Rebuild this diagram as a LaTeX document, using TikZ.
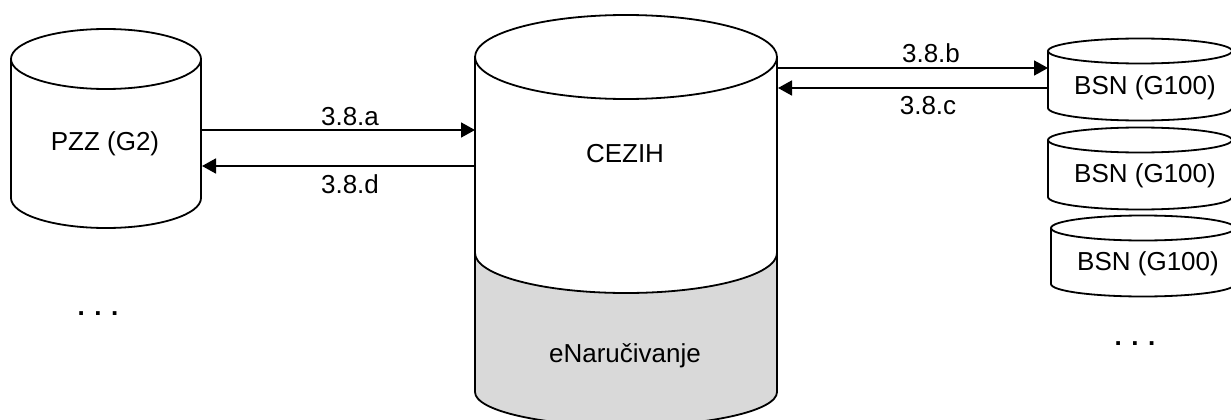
\documentclass[tikz,border=0pt]{standalone}
\usepackage{fontspec}
\setmainfont{Liberation Sans}
\usetikzlibrary{arrows.meta}
\definecolor{dbgray}{HTML}{D9D9D9}
\tikzset{
  outline/.style={draw=black, line width=1.8pt},
  txt/.style={inner sep=0pt, anchor=base, font=\fontsize{26}{31}\selectfont},
  flow/.style={line width=1.8pt, -{Triangle[length=14pt,width=15pt]}}
}
% cylinder: cx, rx, top cy, ry, bottom cy
\newcommand\dbcyl[5]{%
  \fill[white] (#1-#2,#3) -- (#1-#2,#5) arc[start angle=180,end angle=0,x radius=#2,y radius=#4] -- (#1+#2,#3) -- cycle;
  \draw[outline] (#1-#2,#3) -- (#1-#2,#5) arc[start angle=180,end angle=0,x radius=#2,y radius=#4] -- (#1+#2,#3);
  \draw[outline, fill=white] (#1,#3) ellipse [x radius=#2, y radius=#4];
}
\begin{document}
\begin{tikzpicture}[x=1pt,y=-1pt]
\useasboundingbox (0,0) rectangle (1231,420);
\clip (0,0) rectangle (1231,420);
\fill[white] (0,0) rectangle (1231,420);

% PZZ cylinder
\dbcyl{106}{95}{59}{30}{198}
\node[txt] (pzz) at (105,150) {PZZ (G2)};
\coordinate (pzzA) at (201,130);
\coordinate (pzzD) at (202,166);

% CEZIH cylinder
\fill[dbgray] (475,253) arc[start angle=180,end angle=0,x radius=151,y radius=40]
  -- (777,392) arc[start angle=0,end angle=180,x radius=151,y radius=34] -- cycle;
\draw[outline] (475,57) -- (475,392) arc[start angle=180,end angle=0,x radius=151,y radius=34] -- (777,57);
\draw[outline] (475,253) arc[start angle=180,end angle=0,x radius=151,y radius=40];
\draw[outline, fill=white] (626,57) ellipse [x radius=151, y radius=42];
\node[txt] (cezih) at (625,162) {CEZIH};
\node[txt] (enar) at (625,362) {eNaručivanje};
\coordinate (czA) at (475,130);
\coordinate (czD) at (476,166);
\coordinate (czB) at (777,68);
\coordinate (czC) at (778,88);

% BSN cylinders
\dbcyl{1140}{92}{51}{12.5}{108}
\dbcyl{1140}{92}{140}{12.5}{197}
\dbcyl{1143}{92}{228}{12.5}{284}
\node[txt] (bsn1) at (1145,94) {BSN (G100)};
\node[txt] (bsn2) at (1145,182) {BSN (G100)};
\node[txt] (bsn3) at (1148,270) {BSN (G100)};
\coordinate (bsnB) at (1048,68);
\coordinate (bsnC) at (1049,88);

% dots
\node[txt, font=\fontsize{26}{31}\selectfont\bfseries] (dotsL) at (98,315) {. . .};
\node[txt, font=\fontsize{26}{31}\selectfont\bfseries] (dotsR) at (1135,345) {. . .};

% connectors
\draw[flow] (pzzA) -- (czA);
\draw[flow] (czD) -- (pzzD);
\draw[flow] (czB) -- (bsnB);
\draw[flow] (bsnC) -- (czC);

% connector labels
\node[txt] (la) at (350,125) {3.8.a};
\node[txt] (ld) at (350,193) {3.8.d};
\node[txt] (lb) at (931,63) {3.8.b};
\node[txt] (lc) at (928,114) {3.8.c};
\end{tikzpicture}
\end{document}
